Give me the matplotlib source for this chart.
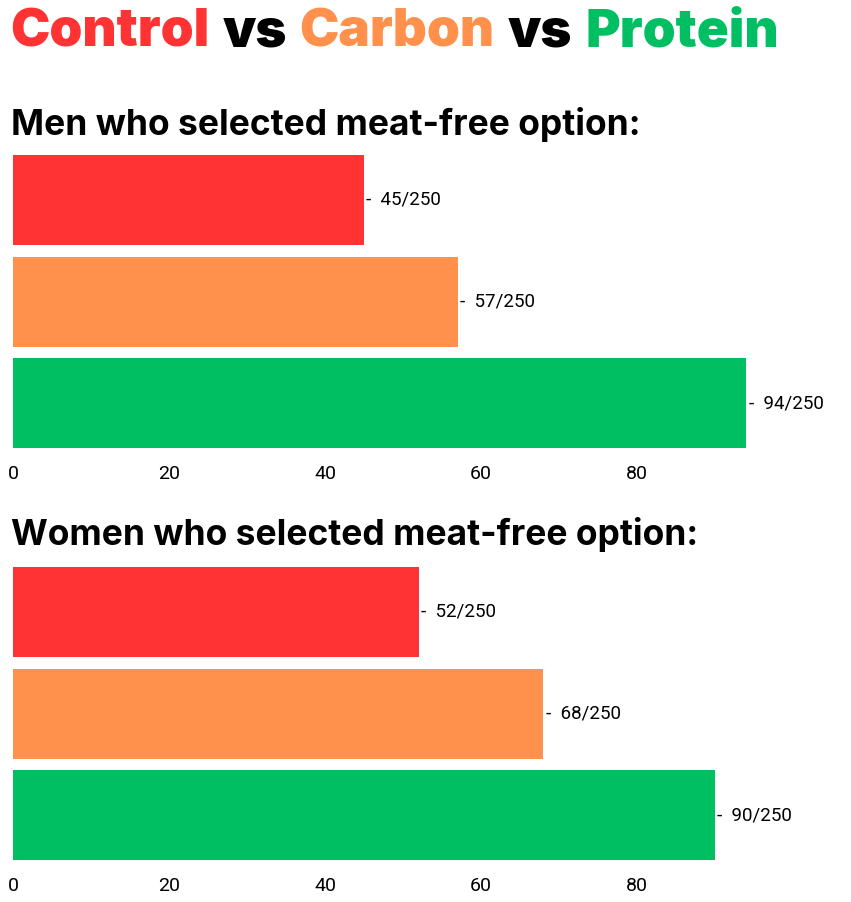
import matplotlib
matplotlib.use("Agg")
import matplotlib.pyplot as plt

conditions = ["Control", "Carbon", "Protein"]
colors = ["#FF3333", "#FF914D", "#00BF63"]
men_values = [45, 57, 94]
women_values = [52, 68, 90]
total = 250
xticks = [0, 20, 40, 60, 80]

W, H = 851, 902
fig = plt.figure(figsize=(W / 100, H / 100), dpi=100)
fig.patch.set_facecolor("white")

# title built from coloured pieces
pieces = [("Control", colors[0]), ("vs", "black"), ("Carbon", colors[1]),
          ("vs", "black"), ("Protein", colors[2])]
fig.canvas.draw()
renderer = fig.canvas.get_renderer()
x = 10
for word, col in pieces:
    t = fig.text(x / W, 1 - 33 / H, word, color=col, fontsize=38, fontweight="black",
                 family="Inter", va="center", ha="left")
    bb = t.get_window_extent(renderer)
    x += bb.width + 13


def panel(top, bottom, subtitle, sub_y, values):
    h = 90 / 101.5
    ax = fig.add_axes([13 / W, (H - bottom) / H, 107 * 7.8 / W, (bottom - top) / H])
    ypos = list(range(len(values)))
    ax.barh(ypos, values, height=h, color=colors)
    ax.set_ylim(2 + h / 2, -h / 2)
    ax.set_xlim(0, 107)
    for y, v in zip(ypos, values):
        ax.text(v + 0.3, y, f"-  {v}/{total}", va="center", ha="left",
                fontsize=13.5, family="Roboto")
    ax.set_xticks(xticks)
    ax.tick_params(axis="x", length=0, labelsize=14, pad=12)
    for lab in ax.get_xticklabels():
        lab.set_family("Roboto")
    ax.set_yticks([])
    for s in ax.spines.values():
        s.set_visible(False)
    fig.text(11 / W, 1 - sub_y / H, subtitle, fontsize=25.5, fontweight="bold",
             family="Inter", va="center", ha="left")


panel(155, 448, "Men who selected meat-free option:", 125, men_values)
panel(567, 860, "Women who selected meat-free option:", 535, women_values)

fig.savefig("out.png", dpi=100)
